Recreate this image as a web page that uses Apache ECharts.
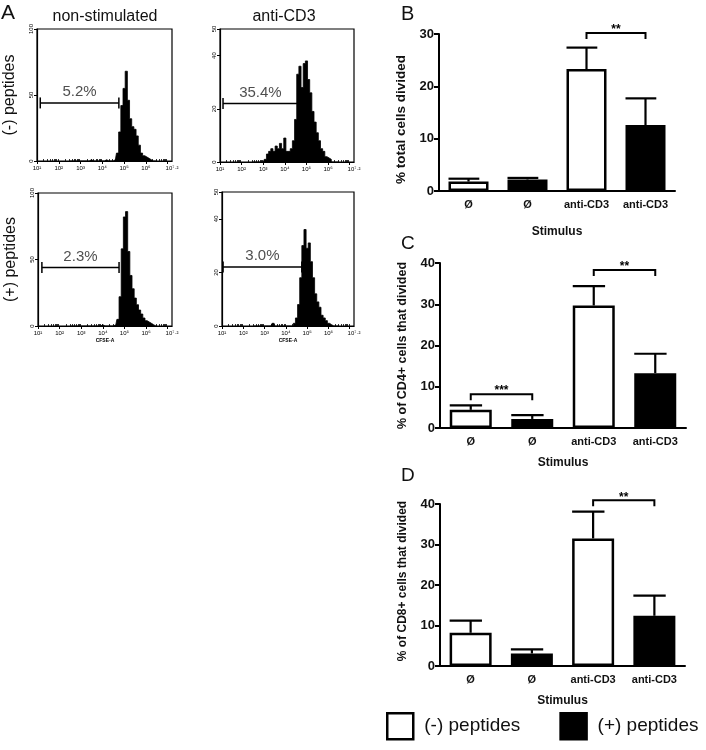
<!DOCTYPE html>
<html><head><meta charset="utf-8">
<script src="https://cdn.jsdelivr.net/npm/echarts@6/dist/echarts.min.js"></script>
<style>html,body{margin:0;padding:0;background:#fff}#c{width:706px;height:750px}</style>
</head><body><div id="c"></div><script>
// ---------- DATA ----------
// CFSE histogram bin centres (log10 of CFSE-A)
const histBins = [2.5,2.6,2.7,2.8,2.9,3.0,3.1,3.2,3.3,3.4,3.5,3.6,3.7,3.8,3.9,4.0,4.1,4.2,4.3,4.4,4.5,4.6,4.7,4.8,4.9,5.0,5.1,5.2,5.3,5.4,5.5,5.6,5.7,5.8,5.9,6.0,6.1,6.2,6.3,6.4,6.5];
const histNonStimMinus = [0,0,0,0,0,0,0,0,0,0, 1,0,0,0,0,0,0,1,0,0, 0,1,6,22,42,55,68,46,32,26,24,19,12,6,4,3,2,1,0,0,0];
const histAntiCD3Minus = [0,0,0,0,0,0, 1,3,4,5,4,6,5,7,5,9,4,4,5,8,16,33,36,28,37,38,31,26,19,15,11,8,5,4,2,1.5,1,0,0,0,0];
const histNonStimPlus  = [0,0,0,0,0,0,0,0,0,0,0,0,0,0,0,1, 0,0,0,0,0,1,5,22,58,82,86,56,38,28,21,16,12,9,6,4,3,2,1,0,0];
const histAntiCD3Plus  = [0,0,0,0,0,0, 0,0,0,1, 0,0,0,0,0,0,0,0,0, 1,3,8,18,30,36,29,31,24,18,12,9,7,4,3,2,1,0.5, 0,0,0,0];
const histColTitles = ['non-stimulated','anti-CD3'];
const histRowTitles = ['(-) peptides','(+) peptides'];
const histYMax = [100, 50, 100, 50];
const histYTicks = [[0,50,100],[0,20,40,50],[0,50,100],[0,20,40,50]];
const logTickLabels = [1,2,3,4,5,6,7.2];
const gateStart = [1.15, 1.14, 1.18, 1.05];
const gateEnd   = [4.76, 4.6, 4.75, 4.75];
const gateLevel = [44, 22, 44, 22];
const gateLabels = ['5.2%','35.4%','2.3%','3.0%'];

// bar charts
const stimulusCats = ['Ø','Ø','anti-CD3','anti-CD3'];
const peptideGroup = ['(-) peptides','(+) peptides','(-) peptides','(+) peptides'];
const totalMean = [1.8, 2.2, 23.3, 12.6];
const totalSem  = [0.55, 0.3, 4.1, 5.1];
const cd4Mean = [4.4, 2.2, 29.7, 13.3];
const cd4Sem  = [1.1, 0.9, 4.7, 4.7];
const cd8Mean = [8.2, 3.1, 31.5, 12.4];
const cd8Sem  = [3.0, 1.0, 6.6, 5.0];
const totalSig = [[2,3,30.2,'**']];
const cd4Sig = [[0,1,8.2,'***'],[2,3,38.3,'**']];
const cd8Sig = [[2,3,40.9,'**']];
const barYNames = ['% total cells divided','% of CD4+ cells that divided','% of CD8+ cells that divided'];
const barYMax = [30, 40, 40];

// ---------- LAYOUT ----------
const FONT = 'Liberation Sans, Arial, Helvetica, sans-serif';
const histGrids = [
  {left:37, top:29, width:135, height:132},
  {left:220, top:29, width:134, height:133},
  {left:38, top:193, width:134, height:133},
  {left:222, top:192, width:132, height:134}
];
const barGrids = [
  {left:439, top:34, width:236, height:157},
  {left:440, top:263, width:246, height:165},
  {left:440, top:504, width:245, height:162}
];
const barWidths = [40, 42, 42];
const barNameGaps = [35, 29, 29];
const barYNameSize = [13.5, 12.5, 12];
const barYNamePad = [[0,14,0,0],[0,0,0,0],[0,0,0,8]];

const sup = {'0':'⁰','1':'¹','2':'²','3':'³','4':'⁴','5':'⁵','6':'⁶','7':'⁷','8':'⁸','9':'⁹','.':'·'};
const logLabel = v => '10' + String(v).split('').map(c => sup[c]).join('');
const minorLogTicks = [];
for (let d = 1; d < 7.2; d++) for (let k = 2; k <= 9; k++) { const v = d + Math.log10(k); if (v < 7.2) minorLogTicks.push(v); }

const grid = [], xAxis = [], yAxis = [], series = [];
const histData = [histNonStimMinus, histAntiCD3Minus, histNonStimPlus, histAntiCD3Plus];

histGrids.forEach((g, i) => {
  grid.push(Object.assign({show:true, borderColor:'#000', borderWidth:1.2, backgroundColor:'transparent'}, g));
});
barGrids.forEach(g => grid.push(Object.assign({}, g)));

// histogram main x axes (0..3)
histGrids.forEach((g, i) => {
  xAxis.push({
    type:'value', gridIndex:i, min:1, max:7.2,
    name: i >= 2 ? 'CFSE-A' : '', nameLocation:'middle', nameGap:12,
    nameTextStyle:{fontSize:5, fontWeight:'bold', color:'#000', fontFamily:FONT},
    axisLine:{show:true, onZero:false, lineStyle:{color:'#000', width:1.2}},
    axisTick:{show:true, customValues:[1,2,3,4,5,6,7], length:3, lineStyle:{color:'#000', width:1}},
    axisLabel:{show:true, customValues:logTickLabels, formatter:logLabel, fontSize:6, color:'#000', margin:4, fontFamily:FONT},
    splitLine:{show:false}
  });
});
// histogram minor x axes (4..7)
histGrids.forEach((g, i) => {
  xAxis.push({
    type:'value', gridIndex:i, min:1, max:7.2,
    axisLine:{show:false},
    axisTick:{show:true, customValues:minorLogTicks, length:2, lineStyle:{color:'#000', width:0.8}},
    axisLabel:{show:false}, splitLine:{show:false}
  });
});
// histogram y axes (0..3)
histGrids.forEach((g, i) => {
  yAxis.push({
    type:'value', gridIndex:i, min:0, max:histYMax[i],
    name: i % 2 === 0 ? histRowTitles[i/2] : '',
    nameLocation:'middle', nameGap:19,
    nameTextStyle:{fontSize:16, color:'#111', fontFamily:FONT},
    axisLine:{show:true, lineStyle:{color:'#000', width:1.2}},
    axisTick:{show:true, customValues:histYTicks[i], length:3, lineStyle:{color:'#000'}},
    axisLabel:{show:true, customValues:histYTicks[i], rotate:90, fontSize:6, color:'#000', margin:3, fontFamily:FONT},
    splitLine:{show:false}
  });
  series.push({
    type:'line', xAxisIndex:i, yAxisIndex:i, step:'middle', symbol:'none', silent:true,
    data: histBins.map((b, j) => [b, histData[i][j]]),
    lineStyle:{color:'#000', width:0.8}, areaStyle:{color:'#000', opacity:1}
  });
  series.push({
    type:'line', xAxisIndex:i, yAxisIndex:i, silent:true,
    symbol:'rect', symbolSize:[1.5, 11], itemStyle:{color:'#000'},
    lineStyle:{color:'#000', width:1.5},
    data:[[gateStart[i], gateLevel[i]], [gateEnd[i], gateLevel[i]]]
  });
  series.push({
    type:'scatter', xAxisIndex:i, yAxisIndex:i, silent:true, symbolSize:1,
    itemStyle:{color:'rgba(0,0,0,0)'},
    data:[[(gateStart[i] + gateEnd[i]) / 2, gateLevel[i]]],
    label:{show:true, position:'top', distance:3, formatter:gateLabels[i], fontSize:15, color:'#222', fontFamily:FONT}
  });
});

// bar panels
const means = [totalMean, cd4Mean, cd8Mean];
const sems = [totalSem, cd4Sem, cd8Sem];
const sigs = [totalSig, cd4Sig, cd8Sig];
barGrids.forEach((g, k) => {
  const gi = 4 + k;
  const xi = 8 + k;
  const yi = 4 + k;
  xAxis.push({
    type:'category', gridIndex:gi, data:stimulusCats,
    name:'Stimulus', nameLocation:'middle', nameGap:barNameGaps[k],
    nameTextStyle:{fontSize:12, fontWeight:'bold', color:'#111', fontFamily:FONT},
    axisLine:{lineStyle:{color:'#000', width:2}},
    axisTick:{alignWithLabel:true, length:5, lineStyle:{color:'#000', width:1.5}},
    axisLabel:{fontSize:11, fontWeight:'bold', color:'#111', margin:8, fontFamily:FONT, interval:0}
  });
  yAxis.push({
    type:'value', gridIndex:gi, min:0, max:barYMax[k], interval:10,
    name:barYNames[k], nameLocation:'middle', nameGap:31,
    nameTextStyle:{fontSize:barYNameSize[k], fontWeight:'bold', color:'#111', fontFamily:FONT, padding:barYNamePad[k]},
    axisLine:{show:true, lineStyle:{color:'#000', width:2}},
    axisTick:{show:true, length:5, lineStyle:{color:'#000', width:2}},
    axisLabel:{fontSize:13, fontWeight:'bold', color:'#111', margin:5, fontFamily:FONT},
    splitLine:{show:false}
  });
  const bw = barWidths[k];
  ['(-) peptides','(+) peptides'].forEach(grp => {
    series.push({
      type:'bar', name:grp, xAxisIndex:xi, yAxisIndex:yi, barWidth:bw, barGap:'-100%',
      data: means[k].map((v, j) => peptideGroup[j] === grp ? v : '-'),
      itemStyle: grp === '(-) peptides'
        ? {color:'#fff', borderColor:'#000', borderWidth:2.5}
        : {color:'#000', borderColor:'#000', borderWidth:2.5}
    });
  });
  // error bars (upper SEM)
  series.push({
    type:'custom', xAxisIndex:xi, yAxisIndex:yi, silent:true, z:5,
    data: means[k].map((v, j) => [j, v, v + sems[k][j]]),
    encode:{x:0, y:[1,2]},
    renderItem:(params, api) => {
      const p0 = api.coord([api.value(0), api.value(1)]);
      const p1 = api.coord([api.value(0), api.value(2)]);
      const st = {stroke:'#000', lineWidth:2.2};
      return {type:'group', children:[
        {type:'line', shape:{x1:p0[0], y1:p0[1], x2:p1[0], y2:p1[1]}, style:st},
        {type:'line', shape:{x1:p1[0]-bw/2, y1:p1[1], x2:p1[0]+bw*0.27, y2:p1[1]}, style:st}
      ]};
    }
  });
  // significance brackets
  const sg = sigs[k];
  series.push({
    type:'custom', xAxisIndex:xi, yAxisIndex:yi, silent:true, clip:false, z:6,
    data: sg.map(s => [s[0], s[1], s[2]]),
    encode:{x:[0,1], y:2},
    renderItem:(params, api) => {
      const a = api.coord([api.value(0), api.value(2)]);
      const b = api.coord([api.value(1), api.value(2)]);
      const st = {stroke:'#000', lineWidth:2, fill:null};
      return {type:'group', children:[
        {type:'polyline', shape:{points:[[a[0], a[1]+6],[a[0], a[1]],[b[0], b[1]],[b[0], b[1]+6]]}, style:st},
        {type:'text', style:{x:(a[0]+b[0])/2, y:a[1]-3, text:sg[params.dataIndex][3], fill:'#000',
          font:'bold 12px ' + FONT, textAlign:'center', textVerticalAlign:'middle'}}
      ]};
    }
  });
});

const title = [
  {text:'A', left:1, top:3, padding:0, textStyle:{fontSize:21, fontWeight:'normal', color:'#111', fontFamily:FONT}},
  {text:histColTitles[0], left:105, top:9, padding:0, textAlign:'center', textStyle:{fontSize:16, fontWeight:'normal', color:'#111', fontFamily:FONT}},
  {text:histColTitles[1], left:284, top:9, padding:0, textAlign:'center', textStyle:{fontSize:16, fontWeight:'normal', color:'#111', fontFamily:FONT}},
  {text:'B', left:401, top:4, padding:0, textStyle:{fontSize:20, fontWeight:'normal', color:'#111', fontFamily:FONT}},
  {text:'C', left:401, top:234, padding:0, textStyle:{fontSize:19, fontWeight:'normal', color:'#111', fontFamily:FONT}},
  {text:'D', left:401, top:466, padding:0, textStyle:{fontSize:19, fontWeight:'normal', color:'#111', fontFamily:FONT}}
];

const chart = echarts.init(document.getElementById('c'), null, {renderer:'canvas'});
chart.setOption({
  animation:false,
  backgroundColor:'#fff',
  title, grid, xAxis, yAxis, series,
  legend:{
    left:386, top:712, padding:0, itemWidth:26, itemHeight:26, itemGap:39, icon:'rect',
    textStyle:{fontSize:19, color:'#111', fontFamily:FONT, padding:[0,0,0,6]},
    data:[
      {name:'(-) peptides', itemStyle:{color:'#fff', borderColor:'#000', borderWidth:2.5}},
      {name:'(+) peptides', itemStyle:{color:'#000', borderColor:'#000', borderWidth:2.5}}
    ],
    selectedMode:false
  }
});
</script></body></html>
